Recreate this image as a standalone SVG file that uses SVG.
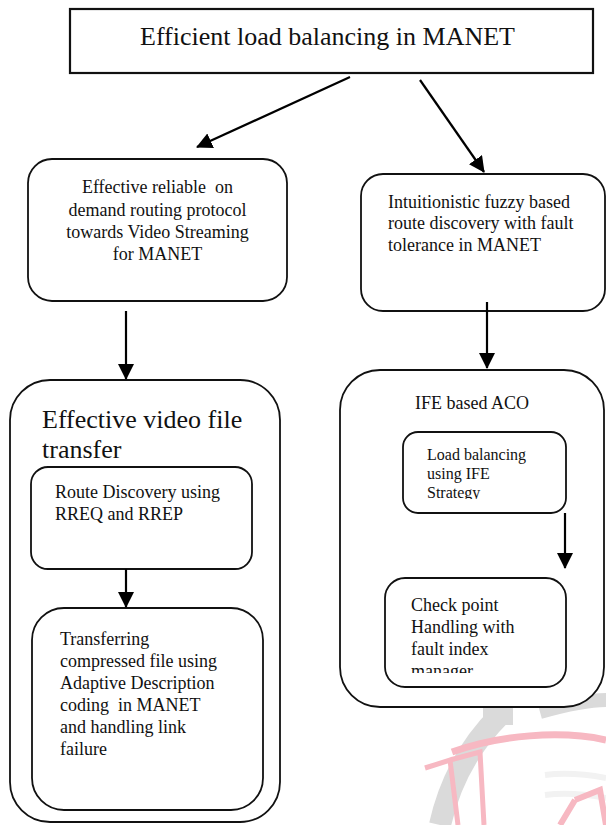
<svg xmlns="http://www.w3.org/2000/svg" width="606" height="825" viewBox="0 0 606 825">
<style>
text{font-family:"Liberation Serif","Times New Roman",serif;fill:#111;white-space:pre}
.box{fill:#fff;stroke:#111;stroke-width:1.8}
.sq{fill:#fff;stroke:#111;stroke-width:2.2}
.t18{font-size:18px}
.t16{font-size:16px}
.t26{font-size:26px}
.c{text-anchor:middle}
.conn{stroke:#000;stroke-width:2.2;fill:none;marker-end:url(#ah)}
.wmg{fill:none;stroke:#dadada}
.wmp{fill:none;stroke:#f7b8c2}
</style>
<defs>
<marker id="ah" viewBox="0 0 16 16" refX="15" refY="8" markerWidth="16" markerHeight="16" markerUnits="userSpaceOnUse" orient="auto">
<path d="M0,0 L16,8 L0,16 Z" fill="#000"/>
</marker>
<clipPath id="clipLoad"><rect x="403" y="432" width="163" height="67"/></clipPath>
<clipPath id="clipCheck"><rect x="385" y="578" width="181" height="95"/></clipPath>
</defs>
<g id="watermark">
<path class="wmg" stroke-width="22" d="M440,825 C450,780 470,745 500,715"/>
<rect x="483" y="708" width="30" height="17" fill="#dadada"/>
<path class="wmg" stroke-width="14" d="M540,712 C565,705 590,700 606,700"/>
<path class="wmp" stroke-width="7" d="M452,752 C500,735 560,730 606,740"/>
<path class="wmp" stroke-width="5" d="M425,768 L450,760 L458,825 M450,760 L480,752 L484,825"/>
<path d="M545,775 C570,772 590,775 606,778 M545,795 C570,792 590,795 606,798" stroke="#f2f2f2" stroke-width="6" fill="none"/>
<path class="wmp" stroke-width="6" d="M575,800 L600,790 L606,825 M560,825 L575,800"/>
</g>
<g id="top">
<rect class="sq" x="70" y="9" width="523" height="64"/>
<text class="t26" x="140" y="45">Efficient load balancing in MANET</text>
</g>
<g id="reliable">
<rect class="box" x="28" y="159" width="259" height="142" rx="24"/>
<text class="t18 c" x="157.5" y="193" xml:space="preserve">Effective reliable  on</text>
<text class="t18 c" x="157.5" y="216">demand routing protocol</text>
<text class="t18 c" x="157.5" y="238">towards Video Streaming</text>
<text class="t18 c" x="157.5" y="260">for MANET</text>
</g>
<g id="fuzzy">
<rect class="box" x="361" y="174" width="244" height="137" rx="22"/>
<text class="t18" x="388" y="208">Intuitionistic fuzzy based</text>
<text class="t18" x="388" y="229">route discovery with fault</text>
<text class="t18" x="388" y="251">tolerance in MANET</text>
</g>
<g id="videotransfer">
<rect class="box" x="10" y="380" width="270" height="442" rx="40"/>
<text class="t26" x="42" y="428">Effective video file</text>
<text class="t26" x="42" y="458">transfer</text>
</g>
<g id="routediscovery">
<rect class="box" x="31" y="467" width="221" height="102" rx="17"/>
<text class="t18" x="55" y="498">Route Discovery using</text>
<text class="t18" x="55" y="520">RREQ and RREP</text>
</g>
<g id="transferring">
<rect class="box" x="32" y="608" width="231" height="202" rx="32"/>
<text class="t18" x="60" y="645">Transferring</text>
<text class="t18" x="60" y="667">compressed file using</text>
<text class="t18" x="60" y="689">Adaptive Description</text>
<text class="t18" x="60" y="711" xml:space="preserve">coding  in MANET</text>
<text class="t18" x="60" y="733">and handling link</text>
<text class="t18" x="60" y="755">failure</text>
</g>
<g id="ifeaco">
<rect class="box" x="340" y="370" width="264" height="337" rx="40"/>
<text class="t18" x="415" y="409">IFE based ACO</text>
</g>
<g id="loadbalancing">
<rect class="box" x="403" y="432" width="163" height="81" rx="15"/>
<g clip-path="url(#clipLoad)">
<text class="t16" x="427" y="460">Load balancing</text>
<text class="t16" x="427" y="479">using IFE</text>
<text class="t16" x="427" y="498">Strategy</text>
</g>
</g>
<g id="checkpoint">
<rect class="box" x="385" y="578" width="181" height="109" rx="20"/>
<g clip-path="url(#clipCheck)">
<text class="t18" x="411" y="611">Check point</text>
<text class="t18" x="411" y="633">Handling with</text>
<text class="t18" x="411" y="655">fault index</text>
<text class="t18" x="411" y="677">manager</text>
</g>
</g>
<g id="connectors">
<line class="conn" x1="350" y1="77" x2="197" y2="147"/>
<line class="conn" x1="420" y1="80" x2="484" y2="172"/>
<line class="conn" x1="126" y1="311" x2="126" y2="379"/>
<line class="conn" x1="487" y1="302" x2="487" y2="368"/>
<line class="conn" x1="126" y1="569" x2="126" y2="607"/>
<line class="conn" x1="565" y1="513" x2="565" y2="568"/>
</g>
</svg>
